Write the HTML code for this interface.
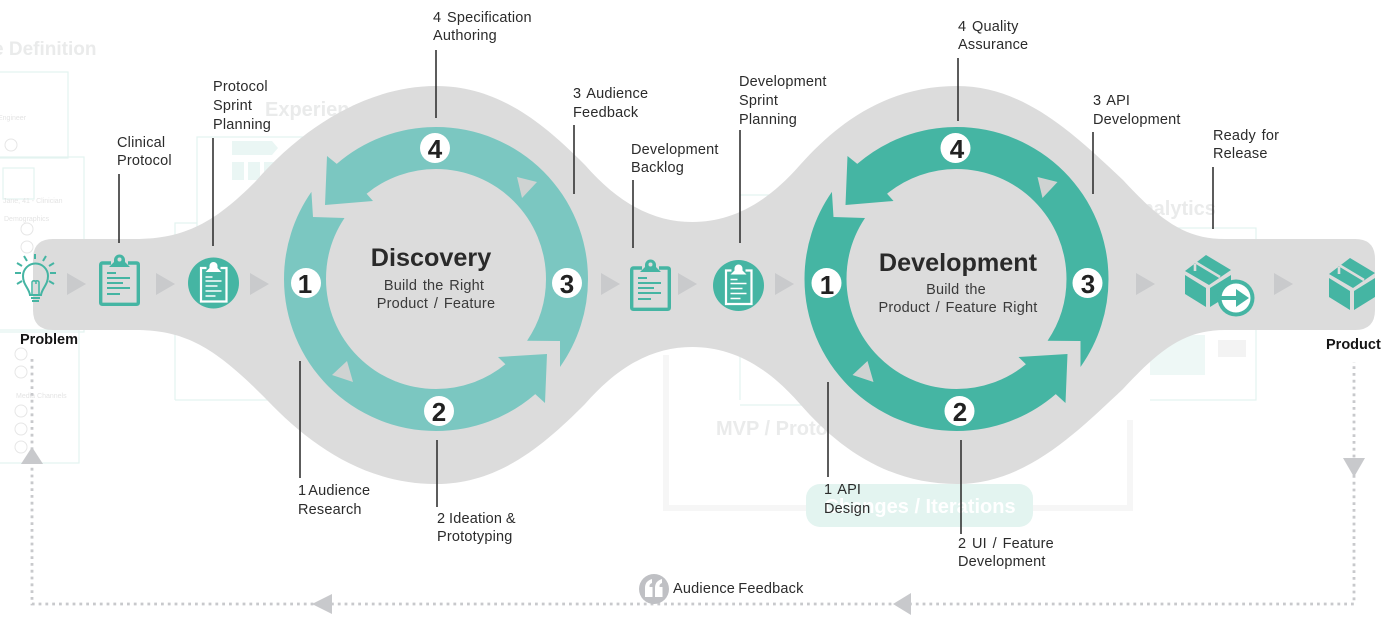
<!DOCTYPE html>
<html><head><meta charset="utf-8"><style>
html,body{margin:0;padding:0;background:#fff;width:1400px;height:640px;overflow:hidden}
svg{display:block}
text{font-family:"Liberation Sans",sans-serif}
.l{font-size:14.5px;letter-spacing:.2px;word-spacing:1.5px;fill:#2b2b2b}
.t{font-weight:bold;font-size:25.2px;fill:#2a2a2a;text-anchor:middle}
.s{font-size:14.5px;letter-spacing:.2px;word-spacing:1.5px;fill:#3a3a3a;text-anchor:middle}
.n{font-weight:bold;font-size:26px;fill:#222;text-anchor:middle}
.f{font-weight:bold;font-size:20px;fill:#eaebeb}
.b{font-weight:bold;font-size:14.5px;fill:#151515}
.c{fill:none;stroke:#e3f3f0;stroke-width:1.2}
.ld{stroke:#333;stroke-width:1.6}
.p{font-size:7px;fill:#e4e4e4}
</style></head><body>
<svg width="1400" height="640" viewBox="0 0 1400 640" xmlns="http://www.w3.org/2000/svg">
<defs>
<polygon id="tri" points="0,-11 19,0 0,11" fill="#c9cacc"/>
<g id="clip">
<path d="M12 10H3.5Q1.7 10 1.7 12V49.5Q1.7 51.3 3.5 51.3H37.5Q39.3 51.3 39.3 49.5V12Q39.3 10 37.500 10H29" fill="none" stroke="#45b5a3" stroke-width="3.4"/>
<path d="M10 14L15 9L15 7A5.5 5.5 0 0 1 26 7L26 9L31 14Z" fill="#45b5a3"/>
<circle cx="20.5" cy="6.5" r="2" fill="#dcdcdc"/>
<path d="M8 20H17M8 25H31M8 30H24M8 35H31M8 41H21" stroke="#45b5a3" stroke-width="2" fill="none"/>
</g>
<g id="cclip">
<circle cx="0" cy="0" r="25.5" fill="#45b5a3"/>
<path d="M-7 -15H-12.5V18.5H13V-15H7" fill="none" stroke="#fff" stroke-width="2.2"/>
<path d="M-8 -11L-4 -15V-17A4 4 0 0 1 4 -17V-15L8 -11Z" fill="#fff"/>
<path d="M-8 -6H-1M-8 -2H8M-8 3H4M-8 8H8M-8 13H2" stroke="#fff" stroke-width="1.6" fill="none"/>
</g>
<g id="box" fill="#45b5a3">
<polygon points="21,0 46,15 24,30 0,16"/>
<polygon points="0,20 21,33 21,52 0,39"/>
<polygon points="25,33 46,20 46,39 25,52"/>
<path d="M10 7L35 22" stroke="#dcdcdc" stroke-width="2.6" fill="none"/>
<path d="M10 9V16" stroke="#dcdcdc" stroke-width="2.6" fill="none"/>
</g>
<g id="ring">
<path d="M527.1 340.700L560 341L560 367A152 152 0 0 0 588 279A152 152 0 0 0 436 127A152 152 0 0 0 336.750 163.900L327 156L325 205L373 201L366.600 193.700A110 110 0 0 1 436 169A110 110 0 0 1 546 279A110 110 0 0 1 527.100 340.700Z"/>
<path d="M344.500 218L313 217L311.400 191.900A152 152 0 0 0 284 279A152 152 0 0 0 436 431A152 152 0 0 0 535.250 394.100L545 403L547 354L498 357L505.400 364.300A110 110 0 0 1 436 389A110 110 0 0 1 326 279A110 110 0 0 1 344.500 218Z"/>
</g>
<g id="marks">
<polygon points="517,177 537,182 522,198" fill="#cfd3d2"/>
<polygon points="332,375 347,361 353,382" fill="#cfd3d2"/>
<g fill="#fff"><circle cx="435" cy="148" r="15"/><circle cx="567" cy="283" r="15"/><circle cx="306" cy="283" r="15"/><circle cx="439" cy="411" r="15"/></g>
</g>
</defs>

<!-- faint background -->
<g>
<text class="f" x="-7" y="55" style="font-size:19px">e Definition</text>
<text class="f" x="265" y="116">Experience</text>
<text class="f" x="1127" y="215">Analytics</text>
<text class="f" x="716" y="435">MVP / Prototype</text>
<rect x="-10" y="72" width="78" height="86" class="c"/>
<rect x="-10" y="157" width="94" height="175" class="c"/>
<rect x="-10" y="330" width="89" height="133" class="c"/>
<rect x="3" y="168" width="31" height="31" class="c"/>
<g fill="none" stroke="#e6e6e6" stroke-width="1">
<circle cx="11" cy="145" r="6"/><circle cx="27" cy="229" r="6"/><circle cx="27" cy="247" r="6"/>
<circle cx="21" cy="354" r="6"/><circle cx="21" cy="372" r="6"/><circle cx="21" cy="411" r="6"/><circle cx="21" cy="429" r="6"/><circle cx="21" cy="447" r="6"/>
</g>
<text class="p" x="-2" y="120">Engineer</text>
<text class="p" x="3" y="203">Jane, 41 - Clinician</text>
<text class="p" x="4" y="221">Demographics</text>
<text class="p" x="16" y="398">Media Channels</text>
<path d="M197 240V137H320M175 400V223H197M175 400H280" class="c"/>
<path d="M232 141H272L278 148L272 155H232ZM232 162H244V180H232ZM248 162H260V180H248ZM264 162H276V180H264Z" fill="#eaf6f4"/>
<path d="M740 400V195H780M740 405H830" class="c"/>
<path d="M1150 400H1256V228H1150" class="c"/>
<rect x="1150" y="335" width="55" height="40" fill="#eef8f6"/>
<rect x="1218" y="340" width="28" height="17" fill="#f3f3f3"/>
<path d="M666 355V508H1130V420" fill="none" stroke="#f6f6f6" stroke-width="6"/>
<rect x="806" y="484" width="227" height="43" rx="14" fill="#e3f4f0"/>
<text x="920" y="513" font-size="20" font-weight="bold" fill="#fff" text-anchor="middle">Changes / Iterations</text>
</g>

<!-- band -->
<path fill="#dcdcdc" d="M53 239L135 239C185 239 215 222 255 182C300 130 365 86 436 86C500 86 545 125 585 165C620 205 655 222 692 222C730 222 765 205 800 165C840 120 890 86 957 86C1025 86 1075 135 1123 180C1160 220 1185 239 1225 239L1355 239Q1375 239 1375 259L1375 310Q1375 330 1355 330L1225 330C1185 330 1160 349 1123 389C1075 434 1025 484 957 484C890 484 840 450 800 404C765 364 730 347 692 347C655 347 620 364 585 404C545 444 500 484 436 484C365 484 310 445 267 400C215 347 185 330 135 330L53 330Q33 330 33 310L33 259Q33 239 53 239Z"/>

<!-- rings -->
<use href="#ring" fill="#7bc7c1"/>
<use href="#marks"/>
<g transform="translate(520.5 0)"><use href="#ring" fill="#45b5a3"/><use href="#marks"/></g>
<g transform="translate(-1 10)">
<text class="n" x="436" y="148">4</text><text class="n" x="568" y="283">3</text><text class="n" x="306" y="283">1</text><text class="n" x="440" y="411">2</text>
<text class="n" x="958" y="148">4</text><text class="n" x="1089" y="283">3</text><text class="n" x="828" y="284">1</text><text class="n" x="961" y="411">2</text>
</g>

<text class="t" x="431" y="266">Discovery</text>
<text class="s" x="434" y="290">Build the Right</text>
<text class="s" x="436" y="308">Product / Feature</text>
<text class="t" x="958" y="271">Development</text>
<text class="s" x="956" y="294">Build the</text>
<text class="s" x="958" y="312">Product / Feature Right</text>

<!-- chevrons -->
<use href="#tri" x="67" y="284"/><use href="#tri" x="156" y="284"/><use href="#tri" x="250" y="284"/>
<use href="#tri" x="601" y="284"/><use href="#tri" x="678" y="284"/><use href="#tri" x="775" y="284"/>
<use href="#tri" x="1136" y="284"/><use href="#tri" x="1274" y="284"/>

<!-- icons -->
<g fill="none" stroke="#45b5a3" stroke-width="2">
<path d="M30 295C29 288 23 285 23 276A12.5 12.5 0 0 1 48 276C48 285 42 288 41 295Z"/>
<path d="M32 295V282A2.2 2.2 0 0 1 36 282V284M39 295V282A2.2 2.2 0 0 0 35 282" stroke-width="1.5"/>
<path d="M31 298H40M32 301H39" stroke-width="2"/>
<path d="M35 254V259M24 256L27 261M46 256L43 261M17 263L22 266M54 263L49 266M15 273H21M50 273H56M17 284L22 281M54 284L49 281"/>
</g>
<use href="#clip" x="99" y="253"/>
<use href="#cclip" x="213.5" y="283"/>
<use href="#clip" x="630" y="258"/>
<use href="#cclip" x="738.5" y="285.5"/>
<use href="#box" x="1185" y="255"/>
<circle cx="1236" cy="298" r="18.5" fill="#45b5a3"/>
<circle cx="1236" cy="298" r="14.5" fill="#fff"/>
<path d="M1220 296H1236V289L1249 298L1236 307V300H1220Z" fill="#45b5a3"/>
<use href="#box" x="1329" y="258"/>

<!-- leaders -->
<g class="ld">
<line x1="119" y1="174" x2="119" y2="243"/>
<line x1="213" y1="138" x2="213" y2="246"/>
<line x1="436" y1="50" x2="436" y2="118"/>
<line x1="574" y1="125" x2="574" y2="194"/>
<line x1="633" y1="180" x2="633" y2="248"/>
<line x1="740" y1="130" x2="740" y2="243"/>
<line x1="958" y1="58" x2="958" y2="121"/>
<line x1="1093" y1="132" x2="1093" y2="194"/>
<line x1="1213" y1="167" x2="1213" y2="229"/>
<line x1="300" y1="361" x2="300" y2="478"/>
<line x1="437" y1="440" x2="437" y2="507"/>
<line x1="828" y1="382" x2="828" y2="477"/>
<line x1="961" y1="440" x2="961" y2="534"/>
</g>

<!-- labels -->
<text class="l" x="117" y="147">Clinical</text><text class="l" x="117" y="165">Protocol</text>
<text class="l" x="213" y="91">Protocol</text><text class="l" x="213" y="110">Sprint</text><text class="l" x="213" y="129">Planning</text>
<text class="l" x="433" y="22">4 Specification</text><text class="l" x="433" y="40">Authoring</text>
<text class="l" x="573" y="98">3 Audience</text><text class="l" x="573" y="117">Feedback</text>
<text class="l" x="631" y="154">Development</text><text class="l" x="631" y="172">Backlog</text>
<text class="l" x="739" y="86">Development</text><text class="l" x="739" y="105">Sprint</text><text class="l" x="739" y="124">Planning</text>
<text class="l" x="958" y="31">4 Quality</text><text class="l" x="958" y="49">Assurance</text>
<text class="l" x="1093" y="105">3 API</text><text class="l" x="1093" y="124">Development</text>
<text class="l" x="1213" y="140">Ready for</text><text class="l" x="1213" y="158">Release</text>
<text class="l" x="298" y="495" style="word-spacing:-1.5px">1 Audience</text><text class="l" x="298" y="514">Research</text>
<text class="l" x="437" y="523" style="word-spacing:-.5px">2 Ideation &amp;</text><text class="l" x="437" y="541">Prototyping</text>
<text class="l" x="824" y="494">1 API</text><text class="l" x="824" y="513">Design</text>
<text class="l" x="958" y="548">2 UI / Feature</text><text class="l" x="958" y="566">Development</text>
<text class="b" x="20" y="344">Problem</text>
<text class="b" x="1326" y="349">Product</text>

<!-- feedback loop -->
<path d="M32 359V604H1354V362" fill="none" stroke="#c8c9cc" stroke-width="2.8" stroke-dasharray="2.8 4"/>
<polygon points="32,447 21,464 43,464" fill="#c8c9cc"/>
<polygon points="1343,458 1365,458 1354,477" fill="#c8c9cc"/>
<polygon points="312,604 332,594 332,614" fill="#c8c9cc"/>
<polygon points="893,604 911,593 911,615" fill="#c8c9cc"/>
<circle cx="654" cy="589" r="15" fill="#bfc0c4"/>
<path d="M645 597V588Q645 581 652 579V583Q649 584 649.500 587H652.500V597ZM655 597V588Q655 581 662 579V583Q659 584 659.500 587H662.500V597Z" fill="#fff"/>
<text class="l" x="673" y="593" style="word-spacing:-1px">Audience Feedback</text>
</svg>
</body></html>
